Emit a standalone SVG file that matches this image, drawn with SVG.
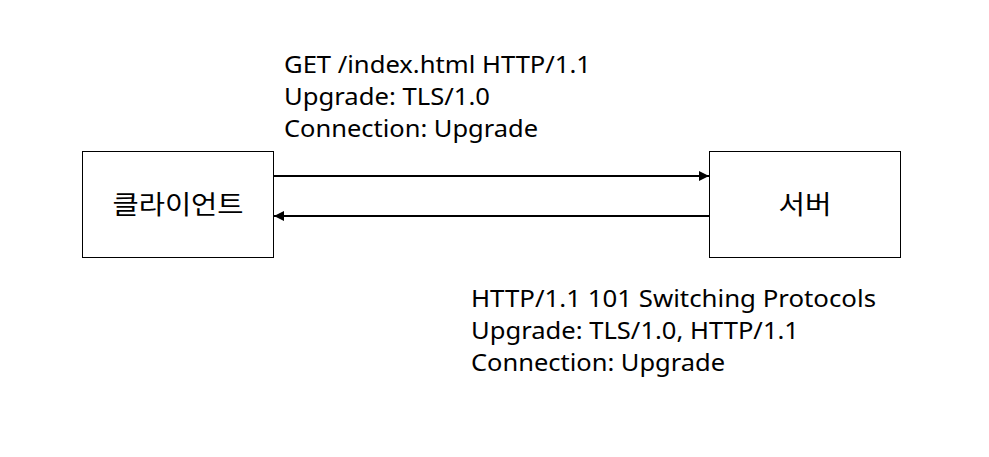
<svg xmlns="http://www.w3.org/2000/svg" width="989" height="457" viewBox="0 0 989 457">
<style>
.box{fill:#fff;stroke:#000;stroke-width:1}
.lbl{font-family:"Noto Sans CJK KR","Noto Sans",sans-serif;font-size:26px;fill:#000}
.msg{font-family:"Noto Sans","Noto Sans CJK KR",sans-serif;font-size:24px;fill:#000}
.conn{stroke:#000;stroke-width:2;fill:none}
</style>
<defs>
<marker id="ah" viewBox="0 0 10 10" refX="10" refY="5" markerWidth="5" markerHeight="5" orient="auto" markerUnits="strokeWidth">
<path d="M0,0 L10,5 L0,10 z" fill="#000"/>
</marker>
</defs>
<rect width="989" height="457" fill="#fff"/>
<g id="client">
<rect class="box" x="82.5" y="151.5" width="191" height="106"/>
<text class="lbl" x="178" y="214" text-anchor="middle" textLength="131" lengthAdjust="spacingAndGlyphs">클라이언트</text>
</g>
<g id="server">
<rect class="box" x="709.5" y="151.5" width="191" height="106"/>
<text class="lbl" x="805" y="214" text-anchor="middle" textLength="53" lengthAdjust="spacingAndGlyphs">서버</text>
</g>
<g id="connectors">
<line class="conn" x1="274" y1="176" x2="709" y2="176" marker-end="url(#ah)"/>
<line class="conn" x1="709" y1="216" x2="274" y2="216" marker-end="url(#ah)"/>
</g>
<g id="request-label">
<text class="msg" x="284" y="73" textLength="307" lengthAdjust="spacingAndGlyphs">GET /index.html HTTP/1.1</text>
<text class="msg" x="284" y="105" textLength="206" lengthAdjust="spacingAndGlyphs">Upgrade: TLS/1.0</text>
<text class="msg" x="284" y="137" textLength="254" lengthAdjust="spacingAndGlyphs">Connection: Upgrade</text>
</g>
<g id="response-label">
<text class="msg" x="471" y="307" textLength="405" lengthAdjust="spacingAndGlyphs">HTTP/1.1 101 Switching Protocols</text>
<text class="msg" x="471" y="339" textLength="328" lengthAdjust="spacingAndGlyphs">Upgrade: TLS/1.0, HTTP/1.1</text>
<text class="msg" x="471" y="371" textLength="254" lengthAdjust="spacingAndGlyphs">Connection: Upgrade</text>
</g>
</svg>
